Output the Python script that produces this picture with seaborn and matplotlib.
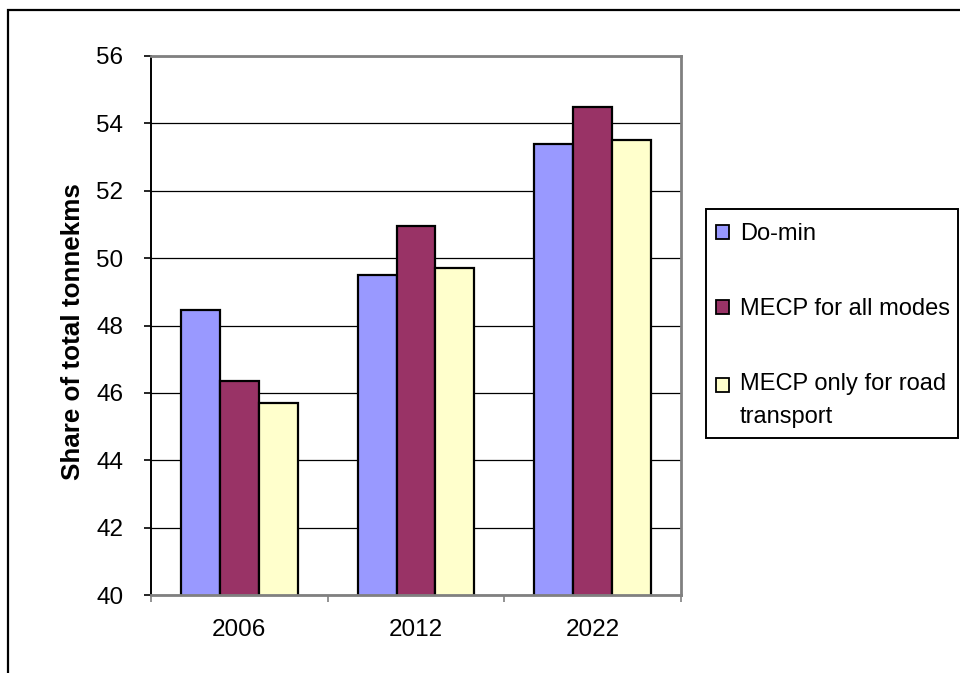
import matplotlib
matplotlib.use("Agg")
import matplotlib.pyplot as plt
import seaborn as sns
import pandas as pd
from matplotlib.patches import Rectangle
from matplotlib.legend_handler import HandlerBase

# Share of total tonne-kilometres by scenario and year
years = ["2006", "2012", "2022"]
scenarios = ["Do-min", "MECP for all modes", "MECP only for road transport"]
do_min = [48.47, 49.51, 53.38]
mecp_all_modes = [46.34, 50.96, 54.50]
mecp_road_only = [45.70, 49.71, 53.52]
legend_labels = ["Do-min", "MECP for all modes", "MECP only for road\ntransport"]
y_ticks = [40, 42, 44, 46, 48, 50, 52, 54, 56]
colors = ["#9999FF", "#993366", "#FFFFCC"]

df = pd.DataFrame({
    "year": years * 3,
    "scenario": [scenarios[0]] * 3 + [scenarios[1]] * 3 + [scenarios[2]] * 3,
    "share": do_min + mecp_all_modes + mecp_road_only,
})

sns.set_style("white")
plt.rcParams["font.family"] = ["Liberation Sans", "DejaVu Sans"]
plt.rcParams["text.color"] = "black"
plt.rcParams["axes.labelcolor"] = "black"
plt.rcParams["xtick.color"] = "black"
plt.rcParams["ytick.color"] = "black"

fig = plt.figure(figsize=(9.6, 6.73), dpi=100)
ax = fig.add_axes([151 / 960, 1 - 595 / 673, 530 / 960, 539 / 673])

sns.barplot(data=df, x="year", y="share", hue="scenario", order=years,
            hue_order=scenarios, palette=colors, width=0.66, gap=0,
            edgecolor="black", linewidth=1.6, saturation=1, legend=False, ax=ax)

ax.set_ylim(40, 56)
ax.set_xlim(-0.5, 2.5)
ax.set_yticks(y_ticks)
ax.set_axisbelow(True)
ax.yaxis.grid(True, color="black", linewidth=0.9)
ax.xaxis.grid(False)

# category ticks sit between the groups; labels sit under the groups
ax.set_xticks([0, 1, 2])
ax.set_xticklabels(years)
ax.set_xticks([-0.5, 0.5, 1.5, 2.5], minor=True)
ax.tick_params(axis="x", which="major", length=0, pad=17.5, labelsize=17.5,
               labelcolor="black")
ax.tick_params(axis="x", which="minor", length=5, width=1.2, color="#808080",
               direction="out", bottom=True)
ax.tick_params(axis="y", which="major", length=5, width=1.2, color="black",
               direction="out", pad=15, labelsize=17.5, labelcolor="black", left=True)

ax.set_xlabel("")
ax.set_ylabel("Share of total tonnekms", fontsize=18.7, fontweight="bold",
              labelpad=8, color="black")
ax.yaxis.label.set_y(0.488)

ax.spines["left"].set_color("black")
ax.spines["left"].set_linewidth(1.4)
for side in ["top", "right", "bottom"]:
    ax.spines[side].set_color("#808080")
    ax.spines[side].set_linewidth(2)
for side in ax.spines:
    ax.spines[side].set_visible(True)


class SquareHandler(HandlerBase):
    """Small square swatch, optionally lifted to sit beside the first text line."""

    def __init__(self, lift=0.0, **kw):
        super().__init__(**kw)
        self.lift = lift

    def create_artists(self, legend, orig_handle, xdescent, ydescent, width,
                       height, fontsize, trans):
        s = 0.58 * fontsize
        x = -xdescent + width - s
        y = -ydescent + (height - s) / 2 + self.lift * fontsize
        r = Rectangle((x, y), s, s, facecolor=orig_handle.get_facecolor(),
                      edgecolor="black", linewidth=1.3, transform=trans)
        return [r]


handles = [Rectangle((0, 0), 1, 1, facecolor=c) for c in colors]
handler_map = {handles[0]: SquareHandler(), handles[1]: SquareHandler(),
               handles[2]: SquareHandler(lift=0.66)}
leg = fig.legend(handles, legend_labels, handler_map=handler_map,
                 loc="upper left", bbox_to_anchor=(706 / 960, 1 - 209 / 673),
                 bbox_transform=fig.transFigure, borderaxespad=0,
                 fontsize=17, frameon=False, borderpad=0.6,
                 handlelength=0.39, handletextpad=0.45, labelspacing=2.25)
for t in leg.texts:
    t.set_color("black")
leg.texts[2].set_linespacing(1.6)

# legend box
fig.add_artist(Rectangle((706 / 960, 1 - 438 / 673), 252 / 960, 229 / 673,
                         transform=fig.transFigure, fill=False,
                         edgecolor="black", linewidth=1.4))

# outer chart frame
fig.add_artist(Rectangle((7.5 / 960, -0.2), 1.2, 1.2 - 9.5 / 673,
                         transform=fig.transFigure, fill=False,
                         edgecolor="black", linewidth=1.6))

fig.savefig("out.png", dpi=100)
